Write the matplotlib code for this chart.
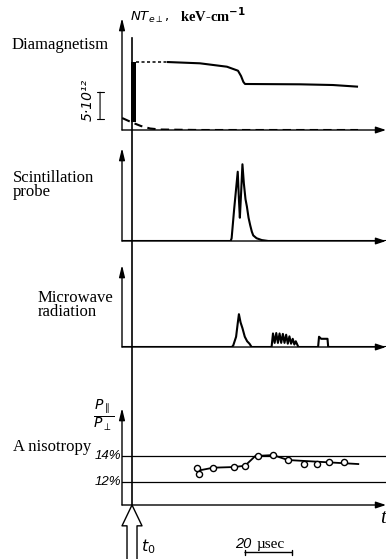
import matplotlib
matplotlib.use('Agg')
import matplotlib.pyplot as plt

plt.rcParams['mathtext.fontset'] = 'custom'
plt.rcParams['mathtext.it'] = 'DejaVu Sans:italic'
plt.rcParams['mathtext.rm'] = 'DejaVu Sans'
plt.rcParams['mathtext.bf'] = 'DejaVu Sans:bold'

W, H = 386, 559
T_MIN, T_MAX = -4.26, 108.1          # time axis, microseconds (t0 = 0)

# ---------------- data ----------------
# Diamagnetism, NT_e (units of 1e12 keV/cm)
dia_flat_t = [1.5, 14.9]
dia_flat_v = [12.6, 12.6]
dia_t = [14.9, 28.9, 40.4, 45.1, 46.4, 47.4, 48.1, 71.5, 85.5, 96.2]
dia_v = [12.59, 12.35, 11.72, 10.98, 10.0, 8.9, 8.52, 8.46, 8.33, 8.02]
dia_spike_t = [-0.6, 1.5]
dia_spike_lo = [1.5, 1.5]
dia_spike_hi = [12.6, 12.6]
dia_low_t = [-4.2, 0.0, 3.8, 7.7, 11.9, 28.9, 96.2]
dia_low_v = [2.22, 1.39, 0.74, 0.28, 0.09, 0.0, 0.0]
dia_scale_lo, dia_scale_len = 2.0, 5.0
dia_ylim = (0, 20.74)

# Scintillation probe (arb. units)
scint_t = [-4.26, 42.0, 42.4, 43.5, 45.0, 45.5, 45.9, 46.4, 47.0, 47.6, 48.3,
           48.9, 49.6, 50.3, 51.0, 51.6, 53.0, 55.2, 58.0, 108.1]
scint_v = [0, 0, 0.03, 0.35, 0.745, 0.45, 0.25, 0.5, 0.825, 0.62, 0.45,
           0.37, 0.25, 0.17, 0.10, 0.06, 0.03, 0.01, 0, 0]

# Microwave radiation (arb. units)
mw_t = [-4.26, 42.5, 43.1, 44.3, 45.0, 45.5, 46.2, 47.0, 48.0, 49.0, 50.0, 50.9,
        59.4, 60.0, 60.7, 61.4, 62.1, 62.8, 63.5, 64.2, 64.9, 65.6, 66.3, 67.0,
        67.7, 68.4, 69.1, 69.7, 70.8,
        79.2, 79.6, 80.5, 83.2, 83.5, 108.1]
mw_v = [0, 0, 0.02, 0.125, 0.29, 0.40, 0.30, 0.23, 0.125, 0.07, 0.04, 0.0,
        0.0, 0.165, 0.05, 0.17, 0.05, 0.165, 0.05, 0.16, 0.05, 0.15, 0.04, 0.13,
        0.04, 0.10, 0.03, 0.07, 0.0,
        0.0, 0.125, 0.10, 0.10, 0.0, 0.0]

# Anisotropy P_par / P_perp (%)
an_t = [27.5, 28.5, 34.6, 43.4, 48.1, 53.5, 60.1, 66.3, 73.3, 78.9, 84.0, 90.2]
an_v = [13.03, 12.59, 13.08, 13.13, 13.23, 13.98, 14.05, 13.67, 13.36, 13.36, 13.54, 13.49]
an_fit_t = [28.0, 34.6, 43.4, 48.1, 52.5, 60.1, 66.3, 96.3]
an_fit_v = [12.85, 13.08, 13.13, 13.23, 13.98, 14.05, 13.67, 13.36]
an_levels = [14, 12]
an_level_labels = ['14%', '12%']
an_ylim = (10.21, 17.67)

scale_t0, scale_len = 48.1, 20.0     # 20 microsecond scale bar

# ---------------- figure ----------------
fig = plt.figure(figsize=(W / 100, H / 100), dpi=100)
fig.patch.set_facecolor('white')

def fx(x):
    return x / W

def fy(y):
    return 1 - y / H

def panel(base_px, top_px, ylim):
    ax = fig.add_axes([fx(122), fy(base_px), fx(386) - fx(122), (base_px - top_px) / H])
    ax.set_xlim(T_MIN, T_MAX)
    ax.set_ylim(*ylim)
    ax.axis('off')
    ax.annotate('', xy=(0, 1), xytext=(0, 0), xycoords='axes fraction',
                arrowprops=dict(arrowstyle='-|>,head_length=0.7,head_width=0.17',
                                lw=1.0, color='black', shrinkA=0, shrinkB=0,
                                mutation_scale=10), annotation_clip=False)
    ax.annotate('', xy=(1, 0), xytext=(0, 0), xycoords='axes fraction',
                arrowprops=dict(arrowstyle='-|>,head_length=0.6,head_width=0.2',
                                lw=1.0, color='black', shrinkA=0, shrinkB=0,
                                mutation_scale=10), annotation_clip=False)
    return ax

LW = 1.5
ax1 = panel(130, 18, dia_ylim)
ax1.plot(dia_flat_t, dia_flat_v, color='black', lw=1.1, ls=(0, (2.0, 1.6)))
ax1.plot(dia_t, dia_v, color='black', lw=LW, solid_capstyle='butt')
ax1.fill_between(dia_spike_t, dia_spike_lo, dia_spike_hi, color='black', lw=0)
ax1.plot(dia_low_t, dia_low_v, color='black', lw=LW, ls=(0, (4, 2.5)))
ax1.annotate('', xy=(-13.6, dia_scale_lo), xytext=(-13.6, dia_scale_lo + dia_scale_len),
             arrowprops=dict(arrowstyle='|-|,widthA=0.25,widthB=0.25', lw=0.8,
                             color='black', shrinkA=0, shrinkB=0, mutation_scale=10),
             annotation_clip=False)

ax2 = panel(241, 148, (0, 1))
ax2.plot(scint_t, scint_v, color='black', lw=LW)

ax3 = panel(347, 265, (0, 1))
ax3.plot(mw_t, mw_v, color='black', lw=LW)

ax4 = panel(505, 408, an_ylim)
for lv in an_levels:
    ax4.axhline(lv, color='black', lw=0.9)
ax4.plot(an_fit_t, an_fit_v, color='black', lw=1.3)
ax4.plot(an_t, an_v, ls='none', marker='o', ms=4.4, mfc='white', mec='black', mew=1.0)
for lv, lab in zip(an_levels, an_level_labels):
    ax4.text(-0.005, lv, lab, transform=ax4.get_yaxis_transform(), ha='right', va='center',
             fontsize=9.5, fontstyle='italic', family='Liberation Sans')

# overlay (time x, pixel-like y) for t0 marker and time scale bar
ax_o = fig.add_axes([fx(122), 0, fx(386) - fx(122), 1])
ax_o.set_xlim(T_MIN, T_MAX)
ax_o.set_ylim(H, 0)
ax_o.axis('off')
ax_o.plot([0, 0], [38, 505], color='black', lw=1.2)
ax_o.annotate('', xy=(0, 505), xytext=(0, 565),
              arrowprops=dict(arrowstyle='simple,head_length=1.5,head_width=1.44,tail_width=0.72',
                              fc='white', ec='black', lw=1.0, shrinkA=0, shrinkB=0,
                              mutation_scale=10), annotation_clip=False)
ax_o.annotate('', xy=(scale_t0, 552.5), xytext=(scale_t0 + scale_len, 552.5),
              arrowprops=dict(arrowstyle='|-|,widthA=0.2,widthB=0.2', lw=1.0,
                              color='black', shrinkA=0, shrinkB=0, mutation_scale=10))

# ---------------- texts ----------------
serif = 'Liberation Serif'
LS = 12
fig.text(fx(12), fy(49), 'Diamagnetism', family=serif, fontsize=LS, va='baseline')
fig.text(fx(13), fy(185), 'Scintillation\nprobe', family=serif, fontsize=LS,
         va='center', ha='left', multialignment='left', linespacing=0.82)
fig.text(fx(38), fy(305), 'Microwave\nradiation', family=serif, fontsize=LS,
         va='center', ha='left', multialignment='left', linespacing=0.82)
fig.text(fx(13), fy(451), 'A nisotropy', family=serif, fontsize=LS, va='baseline')

fig.text(fx(130), fy(21), r'$NT_{e\perp}$,', fontsize=9.5, va='baseline')
fig.text(fx(180), fy(22), r'keV-cm$^{\mathbf{-1}}$', family=serif, fontsize=10.5,
         fontweight='bold', va='baseline')
fig.text(fx(88), fy(100), '5·10¹²', rotation=90, ha='center', va='center',
         fontsize=10, fontstyle='italic', family='DejaVu Sans')
fig.text(fx(104), fy(415), r'$\dfrac{P_{\parallel}}{P_{\perp}}$', ha='center', va='center',
         fontsize=10)
fig.text(fx(235), fy(548), '20', family='Liberation Sans', fontstyle='italic',
         fontsize=10.5, va='baseline')
fig.text(fx(257), fy(548), 'µsec', family=serif, fontsize=11, va='baseline')
fig.text(fx(383), fy(523), 't', family=serif, fontstyle='italic', fontsize=15,
         ha='center', va='baseline')
fig.text(fx(141), fy(551), r'$t_0$', fontsize=11.5, va='baseline')

fig.savefig('out.png', dpi=100, facecolor='white')
